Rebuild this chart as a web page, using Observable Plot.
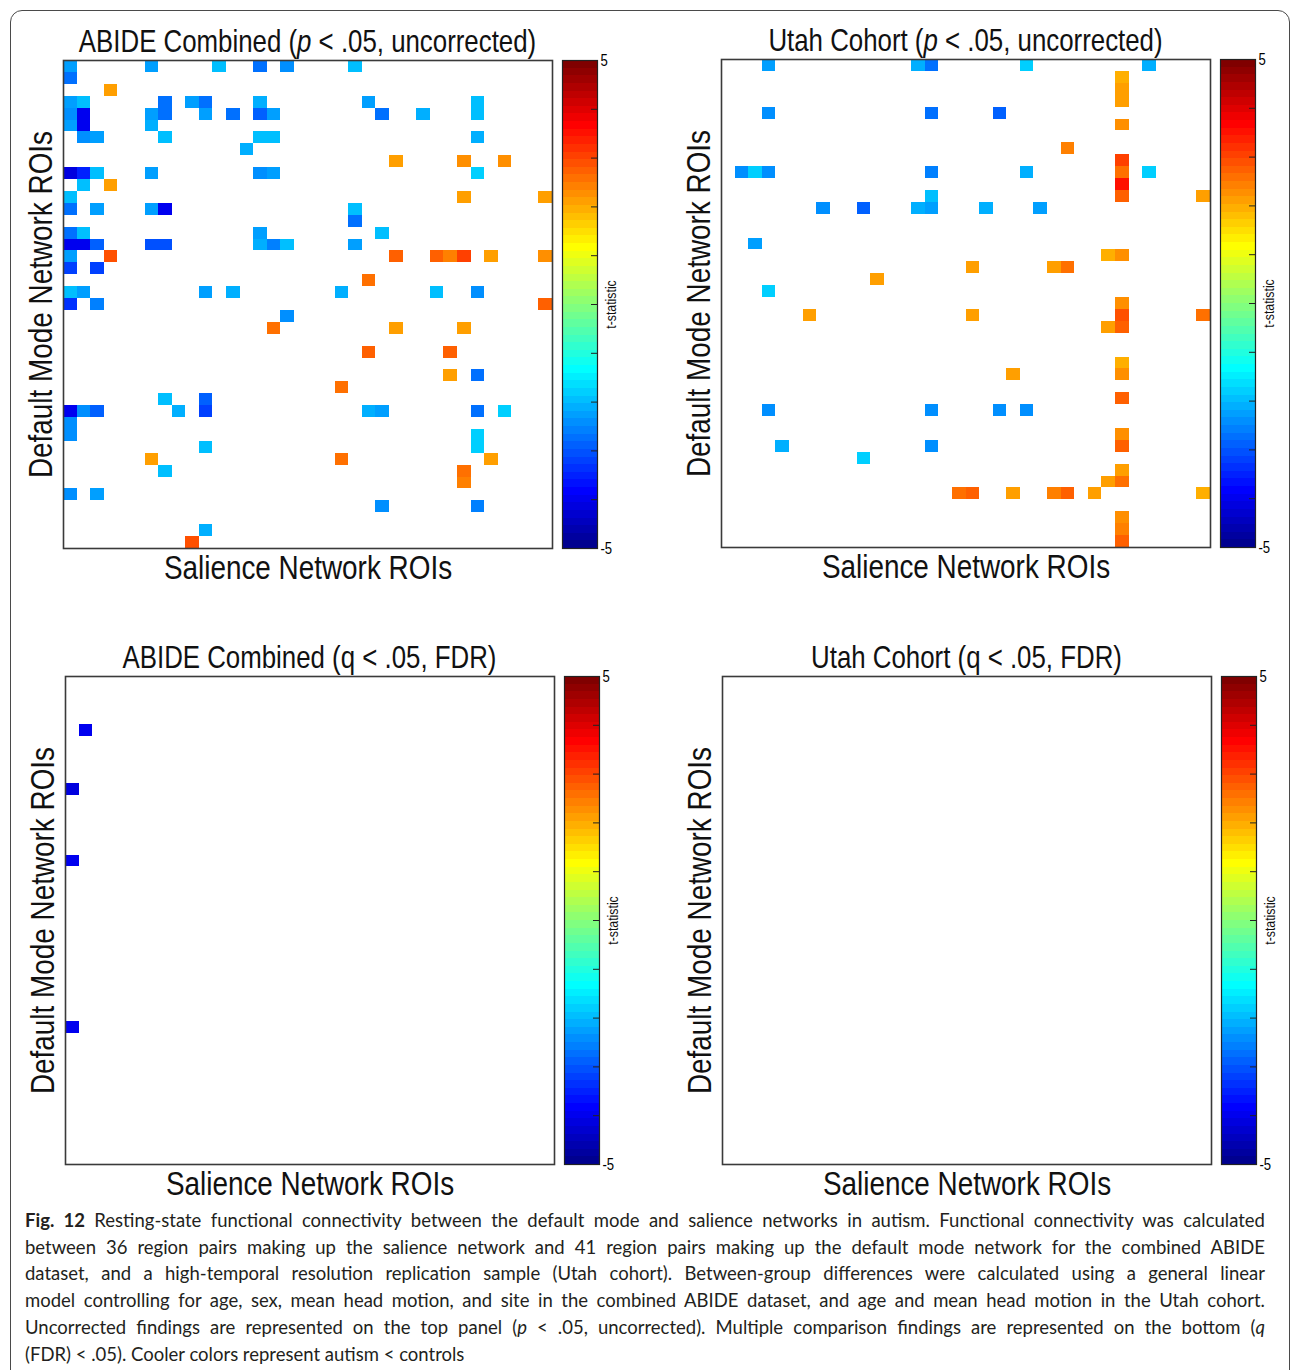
<!DOCTYPE html>
<html>
<head>
<meta charset="utf-8">
<script src="https://cdn.jsdelivr.net/npm/d3@7"></script>
<script src="https://cdn.jsdelivr.net/npm/@observablehq/plot@0.6"></script>
<style>
  html, body { margin: 0; padding: 0; background: #fff; }
  body { width: 1290px; height: 1370px; overflow: hidden; position: relative; }
  #figure { position: absolute; left: 0; top: 0; width: 1290px; height: 1370px; }
  .box { position: absolute; left: 10px; top: 10px; width: 1280px; height: 1420px;
         border: 1.5px solid #4a4a4a; border-radius: 12px; box-sizing: border-box; }
  #figure svg { position: absolute; overflow: visible; }
  .caption { position: absolute; left: 25px; top: 1207px; width: 1240px;
             font-family: Lato, "Open Sans", sans-serif; font-size: 18.5px; line-height: 26.7px; color: #231f20; }
  .caption .line { white-space: nowrap; text-align: justify; text-align-last: justify; }
  .caption .line.last { text-align-last: left; }
</style>
</head>
<body>
<div id="figure"><div class="box"></div></div>
<script>
// Rows: 41 default-mode region pairs; columns: 36 salience-network region pairs.
const salienceRois = d3.range(36);
const dmnRois = d3.range(41);

// Significant connections as [dmnRow, salienceCol, t-statistic].
const abideUncorrected = [
  [0,0,-2.34],[0,6,-2.34],[0,11,-2.03],[0,14,-2.75],[0,16,-2.5],[0,21,-1.95],
  [1,0,-2.75],
  [2,3,2.13],
  [3,0,-2.25],[3,1,-2.0],[3,7,-2.75],[3,9,-2.25],[3,10,-2.75],[3,14,-2.1],[3,22,-2.25],[3,30,-2.0],
  [4,0,-2.5],[4,1,-4.05],[4,6,-2.25],[4,7,-2.75],[4,10,-2.25],[4,12,-2.75],[4,14,-2.9],[4,15,-2.25],[4,23,-2.75],[4,26,-2.1],[4,30,-2.0],
  [5,0,-2.34],[5,1,-3.95],[5,6,-2.1],
  [6,1,-2.5],[6,2,-2.25],[6,7,-1.9],[6,14,-2.03],[6,15,-2.03],[6,30,-2.1],
  [7,13,-2.1],
  [8,24,2.05],[8,29,2.34],[8,32,2.34],
  [9,0,-4.2],[9,1,-3.5],[9,2,-1.9],[9,6,-2.34],[9,14,-2.5],[9,15,-2.25],[9,30,-1.85],
  [10,1,-1.9],[10,3,2.1],
  [11,0,-1.9],[11,29,2.05],[11,35,2.05],
  [12,0,-2.75],[12,2,-2.25],[12,6,-2.25],[12,7,-3.95],[12,21,-1.9],
  [13,21,-2.75],
  [14,0,-2.75],[14,1,-2.03],[14,14,-2.25],[14,23,-1.9],
  [15,0,-3.95],[15,1,-3.95],[15,2,-2.9],[15,6,-3.1],[15,7,-3.1],[15,14,-2.1],[15,15,-2.6],[15,16,-1.9],[15,21,-2.25],
  [16,0,-2.2],[16,3,2.92],[16,24,2.75],[16,27,2.75],[16,28,2.42],[16,29,3.08],[16,31,2.08],[16,35,2.34],
  [17,0,-3.25],[17,2,-3.25],
  [18,22,2.58],
  [19,0,-1.9],[19,1,-2.25],[19,10,-2.25],[19,12,-2.1],[19,20,-2.1],[19,27,-1.9],[19,30,-2.4],
  [20,0,-3.4],[20,2,-2.6],[20,35,2.75],
  [21,16,-2.5],
  [22,15,2.58],[22,24,2.05],[22,29,2.05],
  [24,22,2.81],[24,28,2.75],
  [26,28,2.18],[26,30,-2.75],
  [27,20,2.58],
  [28,7,-1.9],[28,10,-2.9],
  [29,0,-3.95],[29,1,-2.4],[29,2,-2.9],[29,8,-2.1],[29,10,-3.25],[29,22,-2.1],[29,23,-2.25],[29,30,-2.75],[29,32,-1.85],
  [30,0,-2.5],
  [31,0,-2.4],[31,30,-1.85],
  [32,10,-1.9],[32,30,-1.85],
  [33,6,2.18],[33,20,2.58],[33,31,2.18],
  [34,7,-1.9],[34,29,2.5],
  [35,29,2.42],
  [36,0,-2.5],[36,2,-2.34],
  [37,23,-2.4],[37,30,-2.6],
  [39,10,-2.1],
  [40,9,2.92]
];

const utahUncorrected = [
  [0,3,-2.25],[0,14,-2.1],[0,15,-2.75],[0,22,-1.85],[0,31,-2.1],
  [1,29,2.03],
  [2,29,2.13],
  [3,29,2.13],
  [4,3,-2.4],[4,15,-2.75],[4,20,-2.9],
  [5,29,2.34],
  [7,25,2.42],
  [8,29,3.08],
  [9,1,-2.4],[9,2,-1.85],[9,3,-2.4],[9,15,-2.6],[9,22,-2.1],[9,29,2.5],[9,31,-1.85],
  [10,29,3.58],
  [11,15,-2.03],[11,29,2.75],[11,35,2.18],
  [12,7,-2.4],[12,10,-2.9],[12,14,-2.1],[12,15,-2.25],[12,19,-2.1],[12,23,-2.25],
  [15,2,-2.25],
  [16,28,2.03],[16,29,2.34],
  [17,18,2.18],[17,24,2.18],[17,25,2.5],
  [18,11,2.18],
  [19,3,-1.85],
  [20,29,2.34],
  [21,6,2.18],[21,18,2.18],[21,29,2.92],[21,35,2.5],
  [22,28,2.18],[22,29,2.75],
  [25,29,2.03],
  [26,21,2.18],[26,29,2.34],
  [28,29,2.75],
  [29,3,-2.5],[29,15,-2.5],[29,20,-2.5],[29,22,-2.4],
  [31,29,2.34],
  [32,4,-2.1],[32,15,-2.5],[32,29,2.75],
  [33,10,-1.85],
  [34,29,2.18],
  [35,28,2.18],[35,29,2.5],
  [36,17,2.5],[36,18,2.75],[36,21,2.18],[36,24,2.42],[36,25,2.75],[36,27,2.18],[36,35,2.03],
  [38,29,2.34],
  [39,29,2.42],
  [40,29,2.75]
];

const abideFdr = [
  [4,1,-4.05],[9,0,-4.2],[15,0,-3.95],[29,0,-3.95]
];

const utahFdr = [];

const tRange = [-5, 5];
const colorbarTicks = [-4, -3, -2, -1, 0, 1, 2, 3, 4];
const colorbarLabels = [-5, 5];

// MATLAB-style jet colormap with m discrete levels.
function jet(m) {
  const n = Math.ceil(m / 4);
  const u = [...d3.range(1, n + 1).map(i => i / n), ...Array(n - 1).fill(1), ...d3.range(n, 0, -1).map(i => i / n)];
  const off = Math.ceil(n / 2) - (m % 4 === 1 ? 1 : 0);
  const rgb = d3.range(m).map(() => [0, 0, 0]);
  u.forEach((v, k) => {
    const g = off + k, r = g + n, b = g - n;
    if (g >= 0 && g < m) rgb[g][1] = v;
    if (r >= 0 && r < m) rgb[r][0] = v;
    if (b >= 0 && b < m) rgb[b][2] = v;
  });
  return rgb.map(([r, g, b]) => d3.rgb(r * 255, g * 255, b * 255).formatHex());
}
const LEVELS = 64;
const jet64 = jet(LEVELS);
const step = (tRange[1] - tRange[0]) / LEVELS;
const colorOptions = {
  type: "threshold",
  domain: d3.range(1, LEVELS).map(i => tRange[0] + i * step),
  range: jet64
};
const colorBands = d3.range(LEVELS).map(i => ({
  lo: tRange[0] + i * step, hi: tRange[0] + (i + 1) * step, mid: tRange[0] + (i + 0.5) * step
}));

const SANS = "'Liberation Sans', Arial, Helvetica, sans-serif";
const NARROW_FACTOR = 0.82;
const FRAME_W = 489, FRAME_H = 488;
const figure = document.getElementById("figure");

// Narrow a label horizontally (Arial Narrow proportions); returns its new width.
function squeeze(el) {
  const w = el.getComputedTextLength();
  if (w > 0) {
    el.setAttribute("textLength", (w * NARROW_FACTOR).toFixed(2));
    el.setAttribute("lengthAdjust", "spacingAndGlyphs");
  }
  return w * NARROW_FACTOR;
}
function condense(svg) {
  svg.querySelectorAll("text:not(.title-part)").forEach(squeeze);
}

// Title built from consecutive runs (some italic), centred over the frame.
function addTitle(svg, parts, cx, baseline) {
  const g = d3.select(svg).append("g").attr("aria-label", "title");
  const runs = parts.map(([s, italic]) => g.append("text")
    .attr("class", "title-part")
    .attr("x", 0).attr("y", baseline)
    .attr("text-anchor", "start")
    .attr("font-family", SANS).attr("font-size", 31.5).attr("fill", "#111")
    .attr("font-style", italic ? "italic" : null)
    .style("white-space", "pre")
    .text(s));
  const widths = runs.map(r => squeeze(r.node()));
  let x = cx - d3.sum(widths) / 2;
  runs.forEach((r, i) => { r.attr("x", x); x += widths[i]; });
}

function drawPanel({frameLeft, frameTop, title, cells}) {
  const mL = 70, mR = 10, mT = 50, mB = 45;
  const heat = Plot.plot({
    width: mL + FRAME_W + mR, height: mT + FRAME_H + mB,
    marginLeft: mL, marginRight: mR, marginTop: mT, marginBottom: mB,
    style: {background: "transparent"},
    x: {type: "band", domain: salienceRois, padding: 0, round: false, axis: null},
    y: {type: "band", domain: dmnRois, padding: 0, round: false, axis: null},
    color: colorOptions,
    marks: [
      Plot.cell(cells, {x: d => d[1], y: d => d[0], fill: d => d[2], inset: 0, shapeRendering: "crispEdges"}),
      Plot.frame({stroke: "#3a3a3a", strokeWidth: 1.6}),
      Plot.text(["Salience Network ROIs"], {text: d => d, frameAnchor: "bottom", dy: 20,
        textAnchor: "middle", lineAnchor: "middle", fontSize: 34, fontFamily: SANS, fill: "#111"}),
      Plot.text(["Default Mode Network ROIs"], {text: d => d, frameAnchor: "left", dx: -22, rotate: -90,
        textAnchor: "middle", lineAnchor: "middle", fontSize: 34, fontFamily: SANS, fill: "#111"})
    ]
  });
  heat.style.left = (frameLeft - mL) + "px";
  heat.style.top = (frameTop - mT) + "px";
  figure.appendChild(heat);
  condense(heat);
  addTitle(heat, title, mL + FRAME_W / 2, mT - 8);

  // Colour bar
  const cL = 2, cW = 35, cR = 45, cT = 10, cB = 10;
  const bar = Plot.plot({
    width: cL + cW + cR, height: cT + FRAME_H + cB,
    marginLeft: cL, marginRight: cR, marginTop: cT, marginBottom: cB,
    style: {background: "transparent"},
    x: {domain: [0, 1], axis: null},
    y: {domain: tRange, axis: null},
    color: colorOptions,
    marks: [
      Plot.rect(colorBands, {x1: 0, x2: 1, y1: "lo", y2: "hi", fill: "mid", shapeRendering: "crispEdges"}),
      Plot.ruleY(colorbarTicks, {x1: 1 - 6 / cW, x2: 1, stroke: "#222", strokeWidth: 1}),
      Plot.frame({stroke: "#222", strokeWidth: 1.2}),
      Plot.axisY({anchor: "right", ticks: colorbarLabels, tickSize: 0, tickPadding: 3,
        tickFormat: d => String(d), fontSize: 16, fontFamily: SANS, label: null}),
      Plot.text(["t-statistic"], {text: d => d, frameAnchor: "right", dx: 14, rotate: -90,
        textAnchor: "middle", lineAnchor: "middle", fontSize: 15, fontFamily: SANS, fill: "#111"})
    ]
  });
  bar.style.left = (frameLeft + FRAME_W + 10 - cL) + "px";
  bar.style.top = (frameTop - cT) + "px";
  figure.appendChild(bar);
  condense(bar);
}

drawPanel({frameLeft: 63, frameTop: 60, cells: abideUncorrected,
  title: [["ABIDE Combined ("], ["p", true], [" < .05, uncorrected)"]]});
drawPanel({frameLeft: 721, frameTop: 59, cells: utahUncorrected,
  title: [["Utah Cohort ("], ["p", true], [" < .05, uncorrected)"]]});
drawPanel({frameLeft: 65, frameTop: 676, cells: abideFdr,
  title: [["ABIDE Combined (q < .05, FDR)"]]});
drawPanel({frameLeft: 722, frameTop: 676, cells: utahFdr,
  title: [["Utah Cohort (q < .05, FDR)"]]});

// Figure caption, set as justified lines
const caption = document.createElement("div");
caption.className = "caption";
caption.innerHTML = [
  "<b>Fig. 12</b> Resting-state functional connectivity between the default mode and salience networks in autism. Functional connectivity was calculated",
  "between 36 region pairs making up the salience network and 41 region pairs making up the default mode network for the combined ABIDE",
  "dataset, and a high-temporal resolution replication sample (Utah cohort). Between-group differences were calculated using a general linear",
  "model controlling for age, sex, mean head motion, and site in the combined ABIDE dataset, and age and mean head motion in the Utah cohort.",
  "Uncorrected findings are represented on the top panel (<i>p</i> &lt; .05, uncorrected). Multiple comparison findings are represented on the bottom (<i>q</i>",
  "(FDR) &lt; .05). Cooler colors represent autism &lt; controls"
].map((s, i, a) => `<div class="line${i === a.length - 1 ? " last" : ""}"><span>${s}</span></div>`).join("");
figure.appendChild(caption);
// Tighten letter spacing on any line wider than the column
caption.querySelectorAll(".line").forEach(line => {
  const span = line.firstChild;
  const w = span.getBoundingClientRect().width;
  if (w > 1240) {
    const n = span.textContent.length;
    line.style.letterSpacing = ((1240 - w) / n - 0.05).toFixed(3) + "px";
  }
});
</script>
</body>
</html>
